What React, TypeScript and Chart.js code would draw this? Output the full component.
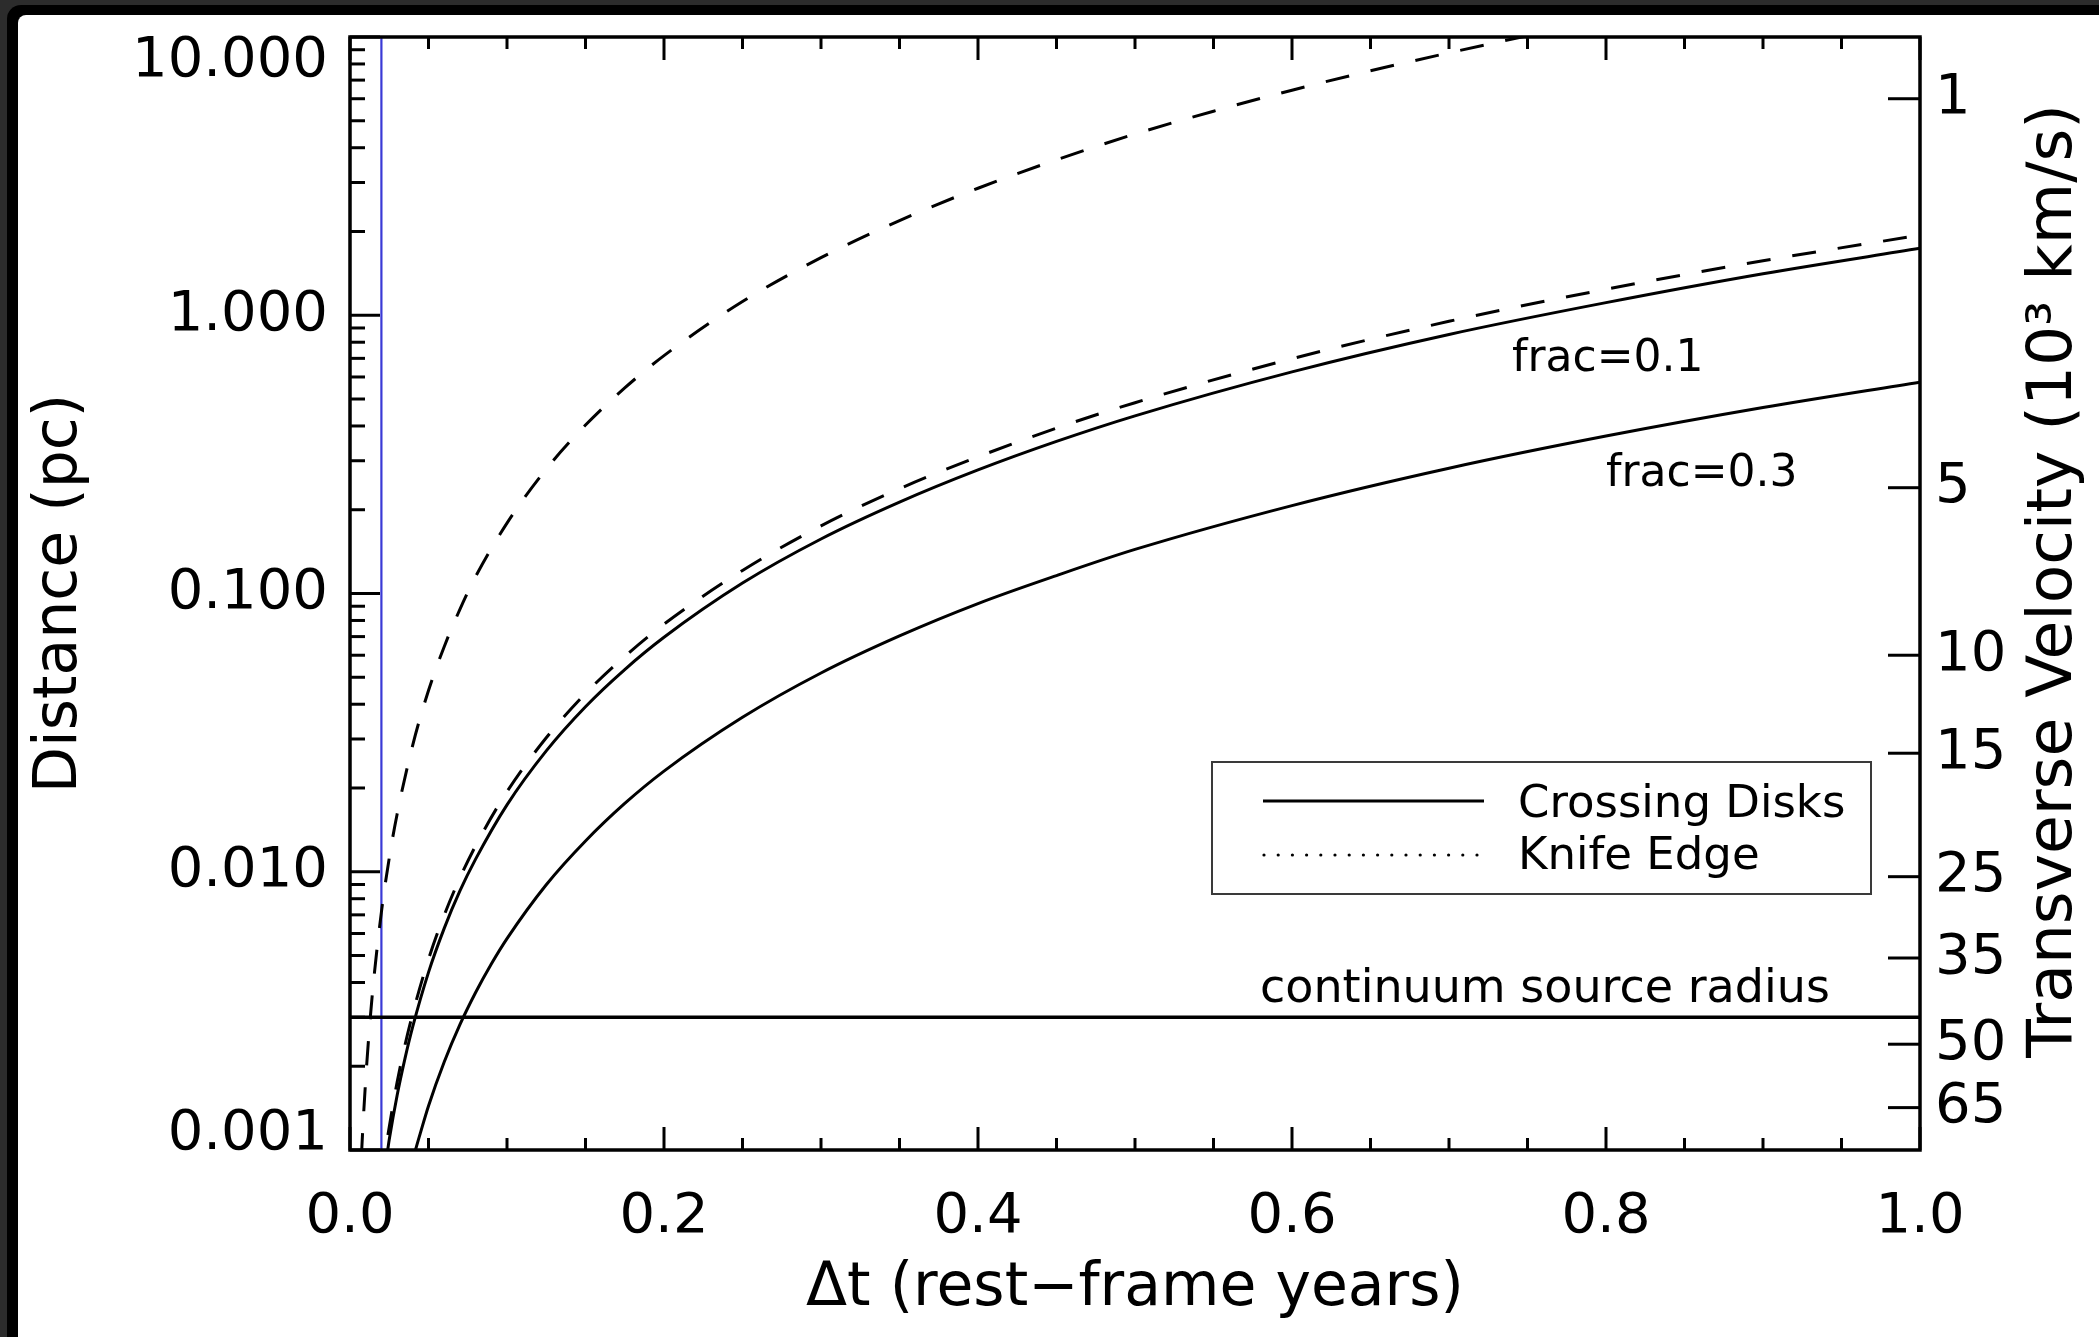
import React, { useEffect, useRef } from 'react';
import { Chart, registerables } from 'chart.js';

Chart.register(...registerables);

const FONT = '"DejaVu Sans", "Liberation Sans", sans-serif';
const INK = '#000000';
const BLUE = 'rgb(58, 58, 214)';

// Knife edge, steep branch: Δt (rest-frame years) -> distance (pc)
const KNIFE_STEEP_T = [0.006, 0.0075, 0.01, 0.0125, 0.015, 0.02, 0.025, 0.03, 0.04, 0.05, 0.06, 0.07, 0.08, 0.1, 0.125, 0.15, 0.175, 0.2, 0.25, 0.3, 0.35, 0.4, 0.45, 0.5, 0.55, 0.6, 0.65, 0.7, 0.75, 0.8];
const KNIFE_STEEP_D = [0.000644, 0.00101, 0.00179, 0.0028, 0.00403, 0.00716, 0.0112, 0.0161, 0.0286, 0.0448, 0.0644, 0.0877, 0.115, 0.179, 0.28, 0.403, 0.548, 0.716, 1.12, 1.61, 2.19, 2.86, 3.62, 4.48, 5.41, 6.44, 7.56, 8.77, 10.1, 11.5];

// Knife edge, frac = 0.1
const KNIFE_01_T = [0.02, 0.0227, 0.025, 0.03, 0.035, 0.04, 0.05, 0.06, 0.07, 0.08, 0.1, 0.125, 0.15, 0.175, 0.2, 0.25, 0.3, 0.35, 0.4, 0.45, 0.5, 0.6, 0.7, 0.8, 0.9, 1.0];
const KNIFE_01_D = [0.000776, 0.001, 0.00121, 0.00175, 0.00238, 0.0031, 0.00485, 0.00698, 0.0095, 0.0124, 0.0194, 0.0303, 0.0437, 0.0594, 0.0776, 0.121, 0.175, 0.238, 0.31, 0.393, 0.485, 0.698, 0.951, 1.24, 1.57, 1.94];

// Crossing disks, frac = 0.1
const CROSS_01_T = [0.022, 0.024, 0.025, 0.03, 0.035, 0.04, 0.05, 0.06, 0.07, 0.08, 0.1, 0.125, 0.15, 0.175, 0.2, 0.25, 0.3, 0.35, 0.4, 0.45, 0.5, 0.6, 0.7, 0.8, 0.9, 1.0];
const CROSS_01_D = [0.000842, 0.001, 0.00109, 0.00157, 0.00213, 0.00278, 0.00435, 0.00626, 0.00853, 0.0111, 0.0174, 0.0272, 0.0392, 0.0533, 0.0696, 0.109, 0.157, 0.213, 0.278, 0.352, 0.435, 0.626, 0.853, 1.11, 1.41, 1.74];

// Crossing disks, frac = 0.3
const CROSS_03_T = [0.04, 0.0417, 0.045, 0.05, 0.06, 0.07, 0.08, 0.09, 0.1, 0.125, 0.15, 0.175, 0.2, 0.25, 0.3, 0.35, 0.4, 0.45, 0.5, 0.6, 0.7, 0.8, 0.9, 1.0];
const CROSS_03_D = [0.00092, 0.001, 0.00116, 0.00144, 0.00207, 0.00282, 0.00368, 0.00466, 0.00575, 0.00898, 0.0129, 0.0176, 0.023, 0.0359, 0.0518, 0.0704, 0.092, 0.116, 0.144, 0.207, 0.282, 0.368, 0.466, 0.575];

const CONTINUUM_RADIUS_PC = 0.003;
const MARKER_T = 0.02;

const TIME_TICKS = [0, 0.2, 0.4, 0.6, 0.8, 1.0];
const DISTANCE_TICKS = [0.001, 0.01, 0.1, 1, 10];
const VELOCITY_TICKS = [1, 5, 10, 15, 25, 35, 50, 65];
// distance (pc) read on the left axis where the velocity axis reads 1 (10^3 km/s); d = K / v^2
const VELOCITY_K = 6.0;

const toPoints = (t: number[], d: number[]) => t.map((x, i) => ({ x, y: d[i] }));

const DASH = [24, 22];

const overlayPlugin = {
  id: 'overlay',
  afterDatasetsDraw(chart: any) {
    const { ctx, chartArea: a } = chart;
    const xs = chart.scales.x;
    const ys = chart.scales.y;
    const y2 = chart.scales.y2;
    ctx.save();
    ctx.strokeStyle = INK;
    ctx.fillStyle = INK;
    ctx.lineCap = 'butt';
    const seg = (x1: number, y1: number, x2: number, y2p: number) => {
      ctx.beginPath();
      ctx.moveTo(x1, y1);
      ctx.lineTo(x2, y2p);
      ctx.stroke();
    };

    // time axis ticks on bottom and top edges
    ctx.lineWidth = 3;
    for (let i = 0; i <= 20; i++) {
      const v = i * 0.05;
      const len = i % 4 === 0 ? 23 : 12;
      const px = xs.getPixelForValue(v);
      seg(px, a.bottom, px, a.bottom - len);
      seg(px, a.top, px, a.top + len);
    }
    // distance axis ticks (decades and 2..9 minors)
    for (let e = -3; e <= 1; e++) {
      for (let m = 1; m <= 9; m++) {
        const v = m * Math.pow(10, e);
        if (v > 10.0001) break;
        const py = ys.getPixelForValue(v);
        seg(a.left, py, a.left + (m === 1 ? 30 : 15), py);
      }
    }
    // velocity axis ticks
    y2.ticks.forEach((t: any) => {
      const py = y2.getPixelForValue(t.value);
      seg(a.right, py, a.right - 32, py);
    });
    // plot frame
    ctx.lineWidth = 3.5;
    ctx.strokeRect(a.left, a.top, a.right - a.left, a.bottom - a.top);

    // curve annotations
    ctx.textAlign = 'left';
    ctx.textBaseline = 'alphabetic';
    ctx.font = `44px ${FONT}`;
    ctx.fillText('frac=0.1', 1512, 371);
    ctx.fillText('frac=0.3', 1606, 486);
    ctx.font = `46px ${FONT}`;
    ctx.fillText('continuum source radius', 1260, 1002);

    // legend
    ctx.lineWidth = 2;
    ctx.strokeStyle = '#3a3a3a';
    ctx.strokeRect(1212, 762, 659, 132);
    ctx.strokeStyle = INK;
    ctx.lineWidth = 3;
    seg(1263, 801, 1484, 801);
    for (let i = 0; i < 16; i++) {
      ctx.beginPath();
      ctx.arc(1264 + i * 14.2, 855, 1.6, 0, Math.PI * 2);
      ctx.fill();
    }
    ctx.font = `45px ${FONT}`;
    ctx.fillText('Crossing Disks', 1518, 817);
    ctx.fillText('Knife Edge', 1518, 869);

    // right-hand axis title
    ctx.font = `63px ${FONT}`;
    ctx.textAlign = 'center';
    ctx.textBaseline = 'middle';
    ctx.translate(2055, 581);
    ctx.rotate(-Math.PI / 2);
    ctx.fillText('Transverse Velocity (10³ km/s)', 0, 0);
    ctx.restore();
  },
};

export default function App() {
  const ref = useRef<HTMLCanvasElement>(null);

  useEffect(() => {
    const canvas = ref.current;
    if (!canvas) return;
    const lineBase = { borderColor: INK, borderWidth: 3, pointRadius: 0, fill: false };
    const chart = new Chart(canvas, {
      type: 'line',
      data: {
        datasets: [
          { ...lineBase, label: 'Knife Edge', data: toPoints(KNIFE_STEEP_T, KNIFE_STEEP_D), borderDash: DASH, cubicInterpolationMode: 'monotone' },
          { ...lineBase, label: 'Knife Edge frac=0.1', data: toPoints(KNIFE_01_T, KNIFE_01_D), borderDash: DASH, cubicInterpolationMode: 'monotone' },
          { ...lineBase, label: 'Crossing Disks frac=0.1', data: toPoints(CROSS_01_T, CROSS_01_D), cubicInterpolationMode: 'monotone' },
          { ...lineBase, label: 'Crossing Disks frac=0.3', data: toPoints(CROSS_03_T, CROSS_03_D), cubicInterpolationMode: 'monotone' },
          { ...lineBase, label: 'continuum source radius', borderWidth: 3.5, data: [{ x: 0, y: CONTINUUM_RADIUS_PC }, { x: 1, y: CONTINUUM_RADIUS_PC }] },
          { ...lineBase, label: 'marker', borderColor: BLUE, borderWidth: 2.2, data: [{ x: MARKER_T, y: 0.001 }, { x: MARKER_T, y: 10 }] },
        ],
      } as any,
      options: {
        responsive: false,
        animation: false,
        devicePixelRatio: 1,
        events: [],
        layout: { padding: { top: 37, left: 0, right: 0, bottom: 0 } },
        plugins: { legend: { display: false }, tooltip: { enabled: false } },
        scales: {
          x: {
            type: 'linear',
            position: 'bottom',
            min: 0,
            max: 1,
            grid: { display: false, drawTicks: false },
            border: { display: false },
            afterBuildTicks: (s: any) => { s.ticks = TIME_TICKS.map((value) => ({ value })); },
            ticks: {
              autoSkip: false,
              maxRotation: 0,
              padding: 34,
              color: INK,
              font: { family: FONT, size: 56, lineHeight: 1.2 },
              callback: (v: any) => Number(v).toFixed(1),
            },
            title: {
              display: true,
              text: 'Δt (rest−frame years)',
              color: INK,
              font: { family: FONT, size: 60, lineHeight: 1.2 },
              padding: { top: 0, bottom: 12 },
            },
            afterFit: (s: any) => { s.height = 187; s.paddingLeft = 0; s.paddingRight = 0; },
          },
          y: {
            type: 'logarithmic',
            position: 'left',
            min: 0.001,
            max: 10,
            grid: { display: false, drawTicks: false },
            border: { display: false },
            afterBuildTicks: (s: any) => { s.ticks = DISTANCE_TICKS.map((value) => ({ value })); },
            ticks: {
              autoSkip: false,
              padding: 22,
              color: INK,
              // end labels are nudged inside the frame via an empty second line
              font: (c: any) => ({ family: FONT, size: 56, lineHeight: c.index === 0 ? 0.57 : 0.86 }),
              callback: (v: any, i: number) => {
                const s = Number(v).toFixed(3);
                if (i === 0) return [s, ''];
                if (i === DISTANCE_TICKS.length - 1) return ['', s];
                return s;
              },
            },
            title: {
              display: true,
              text: 'Distance (pc)',
              color: INK,
              font: { family: FONT, size: 60, lineHeight: 1.2 },
              padding: { top: 24, bottom: 0 },
            },
            afterFit: (s: any) => { s.width = 350; s.paddingTop = 0; s.paddingBottom = 0; },
          },
          y2: {
            type: 'logarithmic',
            position: 'right',
            min: 0.001,
            max: 10,
            grid: { display: false, drawTicks: false },
            border: { display: false },
            afterBuildTicks: (s: any) => { s.ticks = VELOCITY_TICKS.map((v) => ({ value: VELOCITY_K / (v * v) })); },
            ticks: {
              autoSkip: false,
              padding: 15,
              color: INK,
              font: { family: FONT, size: 56, lineHeight: 1 },
              callback: (_v: any, i: number) => String(VELOCITY_TICKS[i]),
            },
            afterFit: (s: any) => { s.width = 179; s.paddingTop = 0; s.paddingBottom = 0; },
          },
        },
      } as any,
      plugins: [overlayPlugin],
    });
    return () => chart.destroy();
  }, []);

  return (
    <div style={{ position: 'fixed', left: 0, top: 0, width: 2099, height: 1337, background: '#2c2c2c', overflow: 'hidden' }}>
      <div style={{ position: 'absolute', left: 7, top: 5, right: 0, bottom: 0, background: '#000', borderTopLeftRadius: 14 }} />
      <div style={{ position: 'absolute', left: 18, top: 15, right: 0, bottom: 0, background: '#fff', borderTopLeftRadius: 8 }} />
      <canvas ref={ref} width={2099} height={1337} style={{ position: 'absolute', left: 0, top: 0, width: 2099, height: 1337 }} />
    </div>
  );
}
